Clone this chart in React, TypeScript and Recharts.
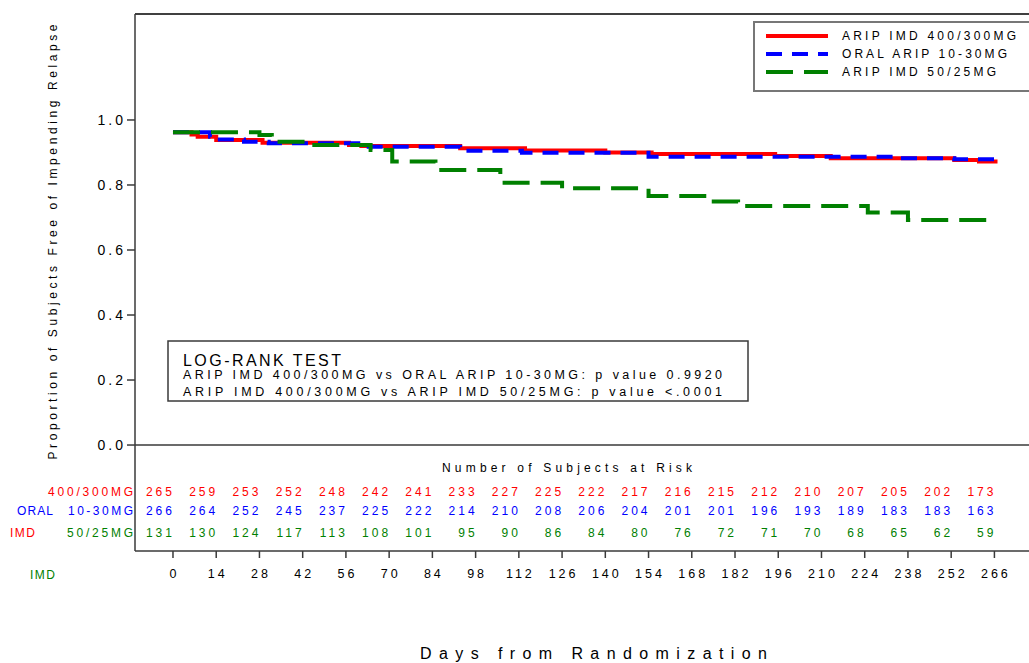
import React from 'react';
import {
  ComposedChart,
  Line,
  Scatter,
  XAxis,
  YAxis,
  ReferenceLine,
  Legend,
} from 'recharts';

// Kaplan-Meier: proportion free of impending relapse, three arms + risk table.

const RED = '#ff0000';
const BLUE = '#0000ff';
const GREEN = '#008000';
const AXIS = '#3a3a3a';
const FONT = '"Liberation Sans", Arial, sans-serif';

const seriesNames = ['ARIP IMD 400/300MG', 'ORAL ARIP 10-30MG', 'ARIP IMD 50/25MG'];

// step curves (day, survival)
const imdHighDays = [0, 6, 8, 14, 29, 57, 61, 93, 114, 140, 155, 195, 213, 253, 261, 267];
const imdHighSurv = [0.962, 0.955, 0.948, 0.938, 0.93, 0.923, 0.92, 0.913, 0.906, 0.9, 0.895, 0.889, 0.882, 0.877, 0.872, 0.872];

const oralDays = [0, 12, 14, 23, 31, 60, 93, 113, 154, 234, 253, 267];
const oralSurv = [0.962, 0.948, 0.94, 0.933, 0.928, 0.918, 0.905, 0.899, 0.887, 0.882, 0.879, 0.879];

const imdLowDays = [0, 28, 32, 44, 64, 71, 85, 106, 126, 154, 174, 183, 225, 238, 264];
const imdLowSurv = [0.962, 0.954, 0.933, 0.923, 0.908, 0.872, 0.846, 0.807, 0.79, 0.766, 0.749, 0.735, 0.715, 0.692, 0.692];

// number at risk
const riskDays = [0, 14, 28, 42, 56, 70, 84, 98, 112, 126, 140, 154, 168, 182, 196, 210, 224, 238, 252, 266];
const riskImdHigh = [265, 259, 253, 252, 248, 242, 241, 233, 227, 225, 222, 217, 216, 215, 212, 210, 207, 205, 202, 173];
const riskOral = [266, 264, 252, 245, 237, 225, 222, 214, 210, 208, 206, 204, 201, 201, 196, 193, 189, 183, 183, 163];
const riskImdLow = [131, 130, 124, 117, 113, 108, 101, 95, 90, 86, 84, 80, 76, 72, 71, 70, 68, 65, 62, 59];

const yTicks = [0, 0.2, 0.4, 0.6, 0.8, 1.0];

const W = 1029;
const H = 663;
const X_DOMAIN: [number, number] = [-12.3, 277.2];
const Y_DOMAIN: [number, number] = [-0.326, 1.326];
// risk-table rows live below 0.0 inside the plot frame
const RISK_ROW_Y = [-0.145, -0.203, -0.27];

const toPoints = (days: number[], surv: number[]) => days.map((t, i) => ({ t, s: surv[i] }));
const toRisk = (counts: number[], level: number) =>
  riskDays.map((t, i) => ({ t, y: level, n: counts[i] }));

const countShape = (color: string) => (props: any) => (
  <text
    x={props.cx + 2}
    y={props.cy}
    dy="0.36em"
    textAnchor="end"
    fill={color}
    fontSize={12}
    letterSpacing={3}
    fontFamily={FONT}
  >
    {props.payload.n}
  </text>
);

const YTick = (props: any) => (
  <text
    x={props.x}
    y={props.y}
    dy="0.36em"
    textAnchor="end"
    fill="#000"
    fontSize={14}
    letterSpacing={3}
    fontFamily={FONT}
  >
    {props.payload.value.toFixed(1)}
  </text>
);

const XTick = (props: any) => (
  <text
    x={props.x + 1.5}
    y={props.y}
    dy={12}
    textAnchor="middle"
    fill="#000"
    fontSize={12.5}
    letterSpacing={3}
    fontFamily={FONT}
  >
    {props.payload.value}
  </text>
);

const legendStyles = [
  { color: RED, dash: undefined, len: 174 },
  { color: BLUE, dash: '16 10', len: 165 },
  { color: GREEN, dash: '27 11', len: 154 },
];

const LegendBox = () => (
  <svg width={276} height={71}>
    <rect x={1} y={1} width={276} height={69} fill="#fff" stroke="#777" strokeWidth={2} />
    {seriesNames.map((name, i) => (
      <g key={name}>
        <line
          x1={13}
          x2={75}
          y1={15 + 18 * i}
          y2={15 + 18 * i}
          stroke={legendStyles[i].color}
          strokeWidth={4}
          strokeDasharray={legendStyles[i].dash}
        />
        <text
          x={89}
          y={15 + 18 * i}
          dy="0.36em"
          fontSize={12}
          fontFamily={FONT}
          fill="#000"
          textLength={legendStyles[i].len}
          lengthAdjust="spacing"
        >
          {name}
        </text>
      </g>
    ))}
  </svg>
);

const txt = { fontFamily: FONT } as const;

const Annotations = () => (
  <svg
    width={W}
    height={H}
    style={{ position: 'absolute', left: 0, top: 0, pointerEvents: 'none' }}
  >
    {/* y-axis title */}
    <text
      transform="translate(57,242) rotate(-90)"
      textAnchor="middle"
      fontSize={12}
      fill="#000"
      textLength={435}
      lengthAdjust="spacing"
      {...txt}
    >
      Proportion of Subjects Free of Impending Relapse
    </text>

    {/* log-rank box */}
    <rect x={168} y={341} width={580} height={60} fill="#fff" stroke={AXIS} strokeWidth={1.5} />
    <text x={183} y={366} fontSize={16} fill="#000" textLength={158} lengthAdjust="spacing" {...txt}>
      LOG-RANK TEST
    </text>
    <text x={183} y={379} fontSize={12.5} fill="#000" textLength={539} lengthAdjust="spacing" {...txt}>
      ARIP IMD 400/300MG vs ORAL ARIP 10-30MG: p value 0.9920
    </text>
    <text x={183} y={396} fontSize={12.5} fill="#000" textLength={539} lengthAdjust="spacing" {...txt}>
      ARIP IMD 400/300MG vs ARIP IMD 50/25MG:  p value &lt;.0001
    </text>

    {/* risk table heading and row labels */}
    <text x={442} y={472} fontSize={12} fill="#000" textLength={250} lengthAdjust="spacing" {...txt}>
      Number of Subjects at Risk
    </text>
    <text x={48} y={496} fontSize={12} fill={RED} textLength={85} lengthAdjust="spacing" {...txt}>
      400/300MG
    </text>
    <text x={17} y={515} fontSize={12} fill={BLUE} textLength={36} lengthAdjust="spacing" {...txt}>
      ORAL
    </text>
    <text x={68} y={515} fontSize={12} fill={BLUE} textLength={65} lengthAdjust="spacing" {...txt}>
      10-30MG
    </text>
    <text x={10} y={537} fontSize={12} fill={RED} textLength={25} lengthAdjust="spacing" {...txt}>
      IMD
    </text>
    <text x={67} y={537} fontSize={12} fill={GREEN} textLength={66} lengthAdjust="spacing" {...txt}>
      50/25MG
    </text>
    <text x={30} y={579} fontSize={12} fill={GREEN} textLength={25} lengthAdjust="spacing" {...txt}>
      IMD
    </text>

    {/* x-axis title */}
    <text x={420} y={659} fontSize={16} fill="#000" textLength={347} lengthAdjust="spacing" {...txt}>
      Days from Randomization
    </text>
  </svg>
);

export default function App() {
  return (
    <div style={{ position: 'absolute', left: 0, top: 0, width: W, height: H, background: '#fff' }}>
      <ComposedChart width={W} height={H} margin={{ top: 14, right: 0, bottom: 0, left: 0 }}>
        <XAxis
          dataKey="t"
          type="number"
          domain={X_DOMAIN}
          allowDataOverflow
          ticks={riskDays}
          interval={0}
          height={112}
          stroke={AXIS}
          strokeWidth={1.5}
          tickSize={7}
          tickMargin={8}
          tick={<XTick />}
        />
        <YAxis
          type="number"
          domain={Y_DOMAIN}
          allowDataOverflow
          ticks={yTicks}
          interval={0}
          width={135}
          stroke={AXIS}
          strokeWidth={1.5}
          tickSize={8}
          tickMargin={1}
          tick={<YTick />}
        />
        <ReferenceLine y={Y_DOMAIN[1]} stroke="#000" strokeWidth={1.5} ifOverflow="visible" />
        <ReferenceLine y={0} stroke={AXIS} strokeWidth={1.5} />
        <Legend
          layout="vertical"
          align="center"
          verticalAlign="middle"
          wrapperStyle={{ left: 753, top: 21, width: 276, height: 71 }}
          content={<LegendBox />}
        />
        <Line
          data={toPoints(imdHighDays, imdHighSurv)}
          dataKey="s"
          type="stepAfter"
          stroke={RED}
          strokeWidth={4}
          dot={false}
          activeDot={false}
          isAnimationActive={false}
        />
        <Line
          data={toPoints(oralDays, oralSurv)}
          dataKey="s"
          type="stepAfter"
          stroke={BLUE}
          strokeWidth={4}
          strokeDasharray="16 10"
          dot={false}
          activeDot={false}
          isAnimationActive={false}
        />
        <Line
          data={toPoints(imdLowDays, imdLowSurv)}
          dataKey="s"
          type="stepAfter"
          stroke={GREEN}
          strokeWidth={4}
          strokeDasharray="27 11"
          dot={false}
          activeDot={false}
          isAnimationActive={false}
        />
        <Scatter data={toRisk(riskImdHigh, RISK_ROW_Y[0])} dataKey="y" shape={countShape(RED)} isAnimationActive={false} />
        <Scatter data={toRisk(riskOral, RISK_ROW_Y[1])} dataKey="y" shape={countShape(BLUE)} isAnimationActive={false} />
        <Scatter data={toRisk(riskImdLow, RISK_ROW_Y[2])} dataKey="y" shape={countShape(GREEN)} isAnimationActive={false} />
      </ComposedChart>
      <Annotations />
    </div>
  );
}
